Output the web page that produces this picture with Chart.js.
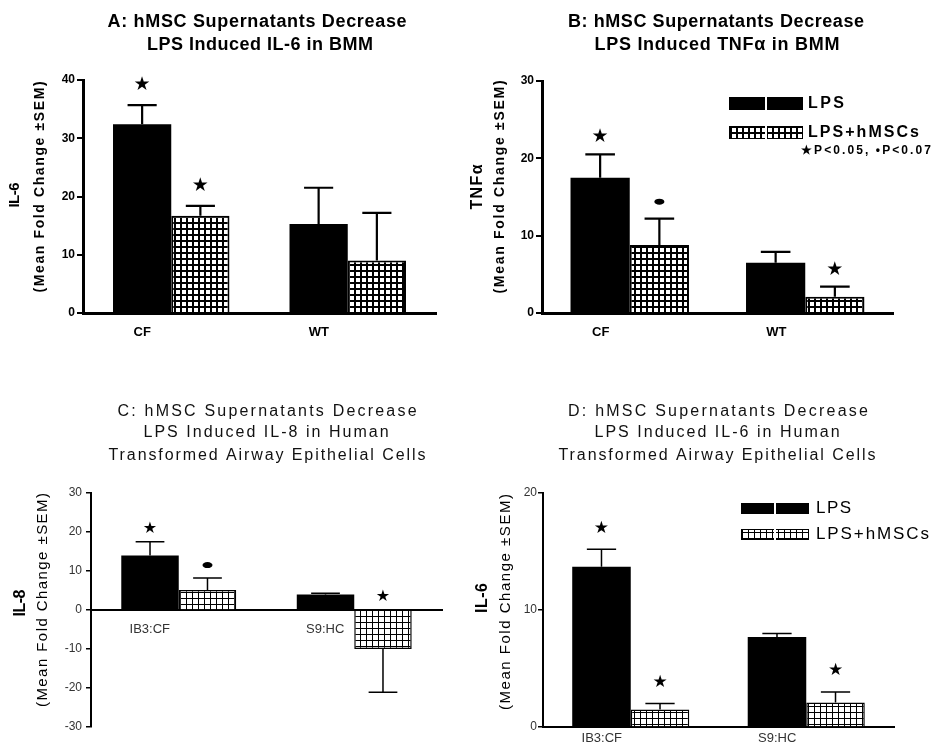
<!DOCTYPE html>
<html>
<head>
<meta charset="utf-8">
<script src="https://cdn.jsdelivr.net/npm/chart.js@4.4.1/dist/chart.umd.min.js"></script>
<style>
html, body { margin: 0; padding: 0; background: #fff; overflow: hidden; }
#wrap { position: relative; width: 932px; height: 752px; }
canvas { position: absolute; }
</style>
</head>
<body>
<div id="wrap">
  <canvas id="cA" width="466" height="370" style="left:0;top:0"></canvas>
  <canvas id="cB" width="466" height="370" style="left:466px;top:0"></canvas>
  <canvas id="cC" width="466" height="382" style="left:0;top:370px"></canvas>
  <canvas id="cD" width="466" height="382" style="left:466px;top:370px"></canvas>
</div>
<script>
// --- data ---
const seriesNames = ['LPS', 'LPS+hMSCs'];
const catsBMM = ['CF', 'WT'];
const catsHuman = ['IB3:CF', 'S9:HC'];

// A: IL-6 in BMM
const ticksA = [0, 10, 20, 30, 40];
const il6BmmLps = [32.4, 15.3];
const il6BmmLpsSem = [3.3, 6.2];
const il6BmmLpsSig = ['★', ''];
const il6BmmMsc = [16.7, 9.0];
const il6BmmMscSem = [1.7, 8.2];
const il6BmmMscSig = ['★', ''];

// B: TNFa in BMM
const ticksB = [0, 10, 20, 30];
const tnfLps = [17.5, 6.5];
const tnfLpsSem = [3.0, 1.4];
const tnfLpsSig = ['★', ''];
const tnfMsc = [8.8, 2.1];
const tnfMscSem = [3.4, 1.3];
const tnfMscSig = ['•', '★'];

// C: IL-8 in human airway cells
const ticksC = [-30, -20, -10, 0, 10, 20, 30];
const il8Lps = [14.0, 4.0];
const il8LpsSem = [3.5, 0.3];
const il8LpsSig = ['★', ''];
const il8Msc = [5.1, -10.0];
const il8MscSem = [3.1, 11.1];
const il8MscSig = ['•', '★'];

// D: IL-6 in human airway cells
const ticksD = [0, 10, 20];
const il6HuLps = [13.7, 7.7];
const il6HuLpsSem = [1.5, 0.3];
const il6HuLpsSig = ['★', ''];
const il6HuMsc = [1.5, 2.1];
const il6HuMscSem = [0.5, 0.9];
const il6HuMscSig = ['★', '★'];

// --- styles ---
const FAM = '"Liberation Sans", Arial, sans-serif';
Chart.defaults.font.family = FAM;
Chart.defaults.color = '#000';

function gridFill(cell, lw) {
    const c = document.createElement('canvas');
    c.width = cell; c.height = cell;
    const g = c.getContext('2d');
    g.fillStyle = '#fff'; g.fillRect(0, 0, cell, cell);
    g.fillStyle = '#000'; g.fillRect(0, 0, cell, lw); g.fillRect(0, 0, lw, cell);
    return g.createPattern(c, 'repeat');
}

// text stretched to the width it has in the figure
function drawText(ctx, t) {
    ctx.save();
    ctx.font = t.font;
    ctx.fillStyle = t.color || '#000';
    ctx.textBaseline = 'middle';
    ctx.textAlign = 'left';
    ctx.translate(t.x, t.y);
    if (t.rot) ctx.rotate(-Math.PI / 2);
    const base = ctx.measureText(t.text).width;
    const w = t.w || base;
    const x0 = t.align === 'left' ? 0 : t.align === 'right' ? -w : -w / 2;
    const n = [...t.text].length;
    if (t.w && 'letterSpacing' in ctx && n > 1) {
        ctx.letterSpacing = ((w - base) / (n - 1)).toFixed(2) + 'px';
        ctx.fillText(t.text, x0, 0);
    } else {
        ctx.translate(x0, 0);
        ctx.scale(w / base, 1);
        ctx.fillText(t.text, 0, 0);
    }
    ctx.restore();
}

function deco(o) {
    return {
        id: 'deco' + o.id,
        afterDatasetsDraw(chart) {
            const ctx = chart.ctx, ys = chart.scales.y;
            const zero = ys.getPixelForValue(0);
            chart.data.datasets.forEach((ds, i) => {
                chart.getDatasetMeta(i).data.forEach((bar, j) => {
                    const v = ds.data[j], e = o.series[i].sem[j];
                    const yBar = ys.getPixelForValue(v);
                    const yEnd = ys.getPixelForValue(v >= 0 ? v + e : v - e);
                    const cap = bar.width * 0.5;
                    ctx.save();
                    ctx.strokeStyle = '#000'; ctx.lineWidth = o.errW;
                    ctx.beginPath();
                    ctx.moveTo(bar.x, yBar); ctx.lineTo(bar.x, yEnd);
                    ctx.moveTo(bar.x - cap / 2, yEnd); ctx.lineTo(bar.x + cap / 2, yEnd);
                    ctx.stroke();
                    const s = o.series[i].sig[j];
                    if (s) {
                        const yy = Math.min(yBar, yEnd, zero) - o.sigGap;
                        ctx.fillStyle = '#000';
                        if (s === '•') {
                            ctx.beginPath();
                            ctx.ellipse(bar.x, yy, 5, 3, 0, 0, Math.PI * 2);
                            ctx.fill();
                        } else {
                            ctx.font = o.starSize + 'px "DejaVu Sans"';
                            ctx.textAlign = 'center'; ctx.textBaseline = 'middle';
                            ctx.fillText(s, bar.x, yy);
                        }
                    }
                    ctx.restore();
                });
            });
        },
        afterDraw(chart) {
            const ctx = chart.ctx;
            o.texts.forEach(t => drawText(ctx, Object.assign({}, t, { x: t.x - o.left, y: t.y - o.top })));
            const lg = o.legend;
            if (!lg) return;
            chart.data.datasets.forEach((ds, i) => {
                const bx = lg.x - o.left, by = lg.y - o.top + i * lg.dy;
                ctx.save();
                ctx.fillStyle = ds.backgroundColor;
                ctx.fillRect(bx, by, lg.w, lg.h);
                if (i > 0) { ctx.strokeStyle = '#000'; ctx.lineWidth = 1; ctx.strokeRect(bx + 0.5, by + 0.5, lg.w - 1, lg.h - 1); }
                ctx.fillStyle = '#fff';
                ctx.fillRect(bx + lg.w / 2 - 1, by, 2, lg.h);
                ctx.restore();
                drawText(ctx, { text: ds.label, x: lg.tx - o.left, y: by + lg.h / 2, w: lg.tw[i], font: lg.font, align: 'left' });
            });
        }
    };
}

function makePanel(o) {
    const yt = o.ticks;
    new Chart(document.getElementById(o.id), {
        type: 'bar',
        data: {
            labels: o.cats,
            datasets: o.series.map((s, i) => ({
                label: seriesNames[i],
                data: s.data,
                backgroundColor: i === 0 ? '#000' : o.fill,
                borderColor: '#000',
                borderWidth: i === 0 ? 0 : o.barBorder,
                categoryPercentage: o.catPct,
                barPercentage: 1
            }))
        },
        options: {
            responsive: false, animation: false, events: [],
            layout: { padding: o.pad },
            plugins: { legend: { display: false }, title: { display: false }, tooltip: { enabled: false } },
            scales: {
                x: {
                    position: o.xAtZero ? { y: 0 } : 'bottom',
                    grid: { display: false, drawTicks: false },
                    border: { display: true, color: '#000', width: o.axisW },
                    ticks: { font: o.catFont, color: o.labelColor, padding: o.catPad, labelOffset: -29, maxRotation: 0, autoSkip: false },
                    afterFit: s => { s.height = o.xHeight; }
                },
                y: {
                    min: yt[0], max: yt[yt.length - 1],
                    grid: { drawOnChartArea: false, drawTicks: true, tickLength: o.tickLen, lineWidth: o.tickW, color: '#000' },
                    border: { display: true, color: '#000', width: o.axisW },
                    ticks: { font: o.tickFont, color: o.labelColor, padding: o.tickPad },
                    afterBuildTicks: s => { s.ticks = yt.map(v => ({ value: v })); },
                    afterFit: s => { s.width = o.yWidth; }
                }
            }
        },
        plugins: [deco(o)]
    });
}

const boldT = 'bold 18px ' + FAM;
const thinT = '16px ' + FAM;
const fillAB = gridFill(6, 2);
const fillCD = gridFill(6, 1);

makePanel({
    id: 'cA', left: 0, top: 0, cats: catsBMM, ticks: ticksA,
    series: [{ data: il6BmmLps, sem: il6BmmLpsSem, sig: il6BmmLpsSig }, { data: il6BmmMsc, sem: il6BmmMscSem, sig: il6BmmMscSig }],
    fill: fillAB, barBorder: 2, catPct: 0.66, axisW: 3, tickLen: 6, tickW: 2, tickPad: 2, errW: 2.2,
    pad: { left: 0, right: 30, top: 80, bottom: 27 }, yWidth: 83, xHeight: 30, catPad: 12, xAtZero: false,
    tickFont: { size: 12, weight: 'bold' }, catFont: { size: 13, weight: 'bold' }, labelColor: '#000',
    sigGap: 20, starSize: 19,
    texts: [
        { text: 'A: hMSC Supernatants Decrease', x: 257, y: 22, w: 299, font: boldT },
        { text: 'LPS Induced IL-6 in BMM', x: 260, y: 45, w: 226, font: boldT },
        { text: 'IL-6', x: 15, y: 195, w: 25, font: 'bold 15px ' + FAM, rot: true },
        { text: '(Mean Fold Change ±SEM)', x: 40, y: 187, w: 211, font: 'bold 14px ' + FAM, rot: true }
    ]
});

makePanel({
    id: 'cB', left: 466, top: 0, cats: catsBMM, ticks: ticksB,
    series: [{ data: tnfLps, sem: tnfLpsSem, sig: tnfLpsSig }, { data: tnfMsc, sem: tnfMscSem, sig: tnfMscSig }],
    fill: fillAB, barBorder: 2, catPct: 0.675, axisW: 3, tickLen: 6, tickW: 2, tickPad: 2, errW: 2.2,
    pad: { left: 0, right: 39, top: 81, bottom: 27 }, yWidth: 76, xHeight: 30, catPad: 12, xAtZero: false,
    tickFont: { size: 12, weight: 'bold' }, catFont: { size: 13, weight: 'bold' }, labelColor: '#000',
    sigGap: 17, starSize: 19,
    texts: [
        { text: 'B: hMSC Supernatants Decrease', x: 716, y: 22, w: 296, font: boldT },
        { text: 'LPS Induced TNFα in BMM', x: 717, y: 45, w: 245, font: boldT },
        { text: 'TNFα', x: 478, y: 187, w: 45, font: 'bold 16px ' + FAM, rot: true },
        { text: '(Mean Fold Change ±SEM)', x: 500, y: 187, w: 213, font: 'bold 14px ' + FAM, rot: true },
        { text: '★P<0.05, •P<0.07', x: 931, y: 151, w: 130, font: 'bold 12px ' + FAM, align: 'right' }
    ],
    legend: { x: 729, y: 97, dy: 29, w: 74, h: 13, tx: 808, tw: [36, 111], font: 'bold 16px ' + FAM }
});

makePanel({
    id: 'cC', left: 0, top: 370, cats: catsHuman, ticks: ticksC,
    series: [{ data: il8Lps, sem: il8LpsSem, sig: il8LpsSig }, { data: il8Msc, sem: il8MscSem, sig: il8MscSig }],
    fill: fillCD, barBorder: 1.5, catPct: 0.655, axisW: 2, tickLen: 5, tickW: 1.5, tickPad: 4, errW: 1.5,
    pad: { left: 0, right: 24, top: 123, bottom: 25 }, yWidth: 91, xHeight: 20, catPad: 12, xAtZero: true,
    tickFont: { size: 12 }, catFont: { size: 13 }, labelColor: '#333',
    sigGap: 13, starSize: 16,
    texts: [
        { text: 'C: hMSC Supernatants Decrease', x: 267, y: 412, w: 299, font: thinT, color: '#111' },
        { text: 'LPS Induced IL-8 in Human', x: 266, y: 433, w: 245, font: thinT, color: '#111' },
        { text: 'Transformed Airway Epithelial Cells', x: 267, y: 456, w: 317, font: thinT, color: '#111' },
        { text: 'IL-8', x: 21, y: 603, w: 27, font: 'bold 16px ' + FAM, rot: true },
        { text: '(Mean Fold Change ±SEM)', x: 43, y: 600, w: 214, font: '15px ' + FAM, rot: true }
    ]
});

makePanel({
    id: 'cD', left: 466, top: 370, cats: catsHuman, ticks: ticksD,
    series: [{ data: il6HuLps, sem: il6HuLpsSem, sig: il6HuLpsSig }, { data: il6HuMsc, sem: il6HuMscSem, sig: il6HuMscSig }],
    fill: fillCD, barBorder: 1.5, catPct: 0.667, axisW: 2, tickLen: 5, tickW: 1.5, tickPad: 1, errW: 1.5,
    pad: { left: 0, right: 38, top: 123, bottom: 5 }, yWidth: 77, xHeight: 20, catPad: 4, xAtZero: false,
    tickFont: { size: 12 }, catFont: { size: 13 }, labelColor: '#333',
    sigGap: 21, starSize: 17,
    texts: [
        { text: 'D: hMSC Supernatants Decrease', x: 718, y: 412, w: 300, font: thinT, color: '#111' },
        { text: 'LPS Induced IL-6 in Human', x: 717, y: 433, w: 245, font: thinT, color: '#111' },
        { text: 'Transformed Airway Epithelial Cells', x: 717, y: 456, w: 317, font: thinT, color: '#111' },
        { text: 'IL-6', x: 483, y: 598, w: 30, font: 'bold 16px ' + FAM, rot: true },
        { text: '(Mean Fold Change ±SEM)', x: 506, y: 602, w: 216, font: '15px ' + FAM, rot: true }
    ],
    legend: { x: 741, y: 503, dy: 26, w: 68, h: 11, tx: 816, tw: [35, 113], font: '17px ' + FAM }
});
</script>
</body>
</html>
